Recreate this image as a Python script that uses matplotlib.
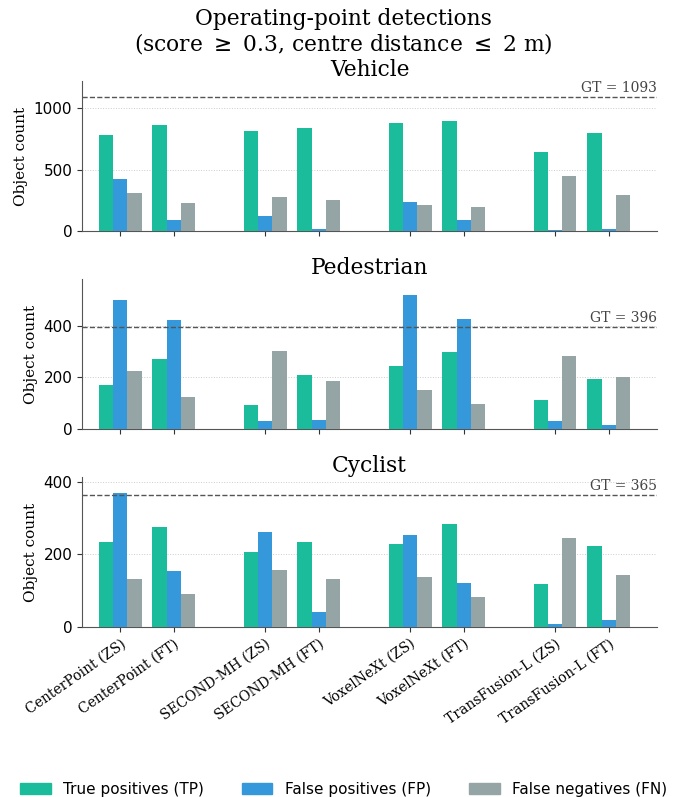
import numpy as np
import matplotlib
matplotlib.use("Agg")
import matplotlib.pyplot as plt
from matplotlib.patches import Patch
from matplotlib.ticker import MaxNLocator

# Detectors and their evaluation setting (zero-shot / fine-tuned)
models = ["CenterPoint (ZS)", "CenterPoint (FT)",
          "SECOND-MH (ZS)", "SECOND-MH (FT)",
          "VoxelNeXt (ZS)", "VoxelNeXt (FT)",
          "TransFusion-L (ZS)", "TransFusion-L (FT)"]

classes = ["Vehicle", "Pedestrian", "Cyclist"]
gt_counts = [1093, 396, 365]

vehicle_tp = [786, 867, 818, 840, 884, 900, 645, 802]
vehicle_fp = [425, 88, 120, 19, 236, 88, 12, 13]
vehicle_fn = [307, 226, 275, 253, 209, 193, 448, 291]

pedestrian_tp = [171, 272, 93, 210, 245, 299, 113, 194]
pedestrian_fp = [499, 421, 31, 35, 518, 425, 31, 16]
pedestrian_fn = [225, 124, 303, 186, 151, 97, 283, 202]

cyclist_tp = [234, 275, 208, 234, 228, 283, 119, 222]
cyclist_fp = [369, 154, 261, 40, 253, 120, 7, 18]
cyclist_fn = [131, 90, 157, 131, 137, 82, 246, 143]

series_labels = ["True positives (TP)", "False positives (FP)", "False negatives (FN)"]
series_colors = ["#1abc9c", "#3498db", "#95a5a6"]

per_class = [
    (vehicle_tp, vehicle_fp, vehicle_fn),
    (pedestrian_tp, pedestrian_fp, pedestrian_fn),
    (cyclist_tp, cyclist_fp, cyclist_fn),
]

SERIF = "DejaVu Serif"
SANS = "DejaVu Sans"

# Pairs of (ZS, FT) bars sit next to each other, with a gap between detectors
x = np.array([(i // 2) * 2.7 + (i % 2) for i in range(len(models))])
width = 0.8 / 3

fig = plt.figure(figsize=(6.87, 7.97), dpi=100)
fig.subplots_adjust(left=0.1194, right=0.9563, top=0.8984, bottom=0.2133, hspace=0.32)
axes = fig.subplots(3, 1, sharex=False)

for ax, cls, gt, vals in zip(axes, classes, gt_counts, per_class):
    for k, (v, col) in enumerate(zip(vals, series_colors)):
        ax.bar(x + (k - 1) * width, v, width, color=col, zorder=3)
    top = max(max(max(v) for v in vals), gt) * 1.12
    ax.set_ylim(0, top)
    ax.set_xlim(x[0] - 0.71, x[-1] + 0.9)
    ax.yaxis.set_major_locator(MaxNLocator(nbins=3, steps=[1, 2, 5, 10]))
    ax.axhline(gt, color="#555555", ls="--", lw=1.0, zorder=4)
    ax.text(1.0, gt + top * 0.012, f"GT = {gt}", transform=ax.get_yaxis_transform(),
            ha="right", va="bottom", family=SERIF, fontsize=10, color="#444444")
    ax.yaxis.grid(True, ls=":", lw=0.7, color="#cccccc", zorder=0)
    ax.set_axisbelow(True)
    for s in ("top", "right"):
        ax.spines[s].set_visible(False)
    for s in ("left", "bottom"):
        ax.spines[s].set_color("#555555")
    ax.tick_params(colors="#333333", labelcolor="black")
    ax.set_title(cls, family=SERIF, fontsize=15.7, pad=3.5)
    ax.set_ylabel("Object count", family=SERIF, fontsize=11)
    ax.set_xticks(x)
    for lab in ax.get_yticklabels():
        lab.set_family(SANS)
        lab.set_fontsize(11)
    if ax is axes[-1]:
        ax.set_xticklabels(models, rotation=35, ha="right", rotation_mode="anchor",
                           family=SERIF, fontsize=10)
    else:
        ax.set_xticklabels([])

fig.suptitle("Operating-point detections\n(score $\\geq$ 0.3, centre distance $\\leq$ 2 m)",
             family=SERIF, fontsize=15.7, y=0.99, linespacing=1.05)

handles = [Patch(color=c) for c in series_colors]
fig.legend(handles, series_labels, loc="lower center", ncol=3, frameon=False,
           columnspacing=2.5, bbox_to_anchor=(0.5, -0.017),
           prop={"family": SANS, "size": 11})

fig.savefig("out.png", dpi=100)
